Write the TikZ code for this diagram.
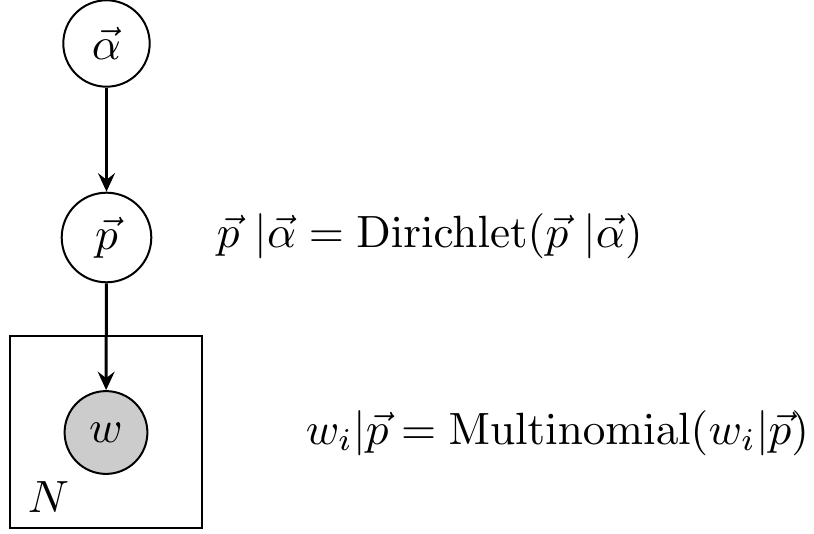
\documentclass[tikz,border=0pt]{standalone}
\usepackage{graphicx}
\usetikzlibrary{arrows.meta}
\newcommand\sbx[1]{\scalebox{1.13}{#1}}
\begin{document}
\begin{tikzpicture}[x=0.25pt,y=-0.25pt,
  latent/.style={circle,draw,line width=0.5pt,inner sep=0pt},
  observed/.style={latent,fill=black!20},
  edge/.style={line width=0.75pt,-{Stealth[length=4.6pt,width=4.2pt,inset=1.6pt]}},
  plate/.style={draw,line width=0.5pt},
  eqn/.style={anchor=base west,inner sep=0pt}]
\useasboundingbox (0,0) rectangle (814,534);
\node[latent,minimum size=21.6pt] (alpha) at (106.5,43.5) {\sbx{$\vec{\alpha}$}};
\node[latent,minimum size=22.4pt] (p) at (106.5,237.5) {\sbx{$\vec{p}$}};
\node[observed,minimum size=20.7pt] (w) at (106,432.5) {\sbx{$w$}};
\draw[plate] (10,336) rectangle (202,528);
\node[eqn] (N) at (27,513) {\sbx{$N$}};
\draw[edge] (alpha) -- (p);
\draw[edge] (p) -- (w);
\node[eqn] (eq1) at (216,248) {\sbx{$\vec{p}\ |\vec{\alpha} = \mathrm{Dirichlet}(\vec{p}\ |\vec{\alpha})$}};
\node[eqn] (eq2) at (305,444) {\sbx{$w_i|\vec{p} = \mathrm{Multinomial}(w_i|\vec{p})$}};
\end{tikzpicture}
\end{document}
